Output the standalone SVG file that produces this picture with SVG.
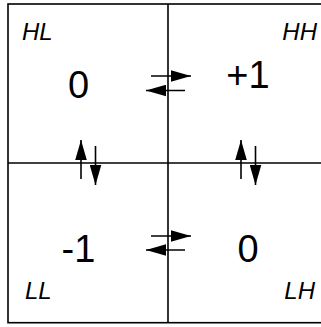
<svg xmlns="http://www.w3.org/2000/svg" width="321" height="327" viewBox="0 0 321 327">
<style>
.grid{fill:none;stroke:#000;stroke-width:1.6}
.arr{stroke:#000;stroke-width:1.6;fill:none;marker-end:url(#ah)}
.num{font-family:"Liberation Sans",Arial,sans-serif;font-size:38px;fill:#000;text-anchor:middle}
.lab{font-family:"Liberation Sans",Arial,sans-serif;font-size:24px;font-style:italic;fill:#000}
</style>
<defs>
<marker id="ah" markerUnits="userSpaceOnUse" markerWidth="20" markerHeight="12" viewBox="0 0 19 11" refX="19" refY="5.5" orient="auto">
<path d="M0,0 L19,5.5 L0,11 z" fill="#000"/>
</marker>
</defs>
<g id="grid">
<rect class="grid" x="8" y="4" width="320" height="318.7"/>
<line class="grid" x1="168" y1="4" x2="168" y2="322.7"/>
<line class="grid" x1="8" y1="163" x2="328" y2="163"/>
</g>
<g id="HL"><text class="lab" x="22" y="40">HL</text><text class="num" x="78.5" y="98">0</text></g>
<g id="HH"><text class="lab" x="317" y="40" text-anchor="end">HH</text><text class="num" x="248" y="88">+1</text></g>
<g id="LL"><text class="lab" x="25" y="299">LL</text><text class="num" x="78.5" y="261.5">-1</text></g>
<g id="LH"><text class="lab" x="315" y="299" text-anchor="end">LH</text><text class="num" x="248" y="261.5">0</text></g>
<g id="connectors">
<line class="arr" x1="151" y1="76" x2="191" y2="76"/>
<line class="arr" x1="185" y1="90.5" x2="146" y2="90.5"/>
<line class="arr" x1="151" y1="236" x2="191" y2="236"/>
<line class="arr" x1="185" y1="250" x2="146" y2="250"/>
<line class="arr" x1="81" y1="179" x2="81" y2="140"/>
<line class="arr" x1="95.5" y1="146" x2="95.5" y2="185"/>
<line class="arr" x1="241" y1="179" x2="241" y2="140"/>
<line class="arr" x1="255.5" y1="146" x2="255.5" y2="185"/>
</g>
</svg>
